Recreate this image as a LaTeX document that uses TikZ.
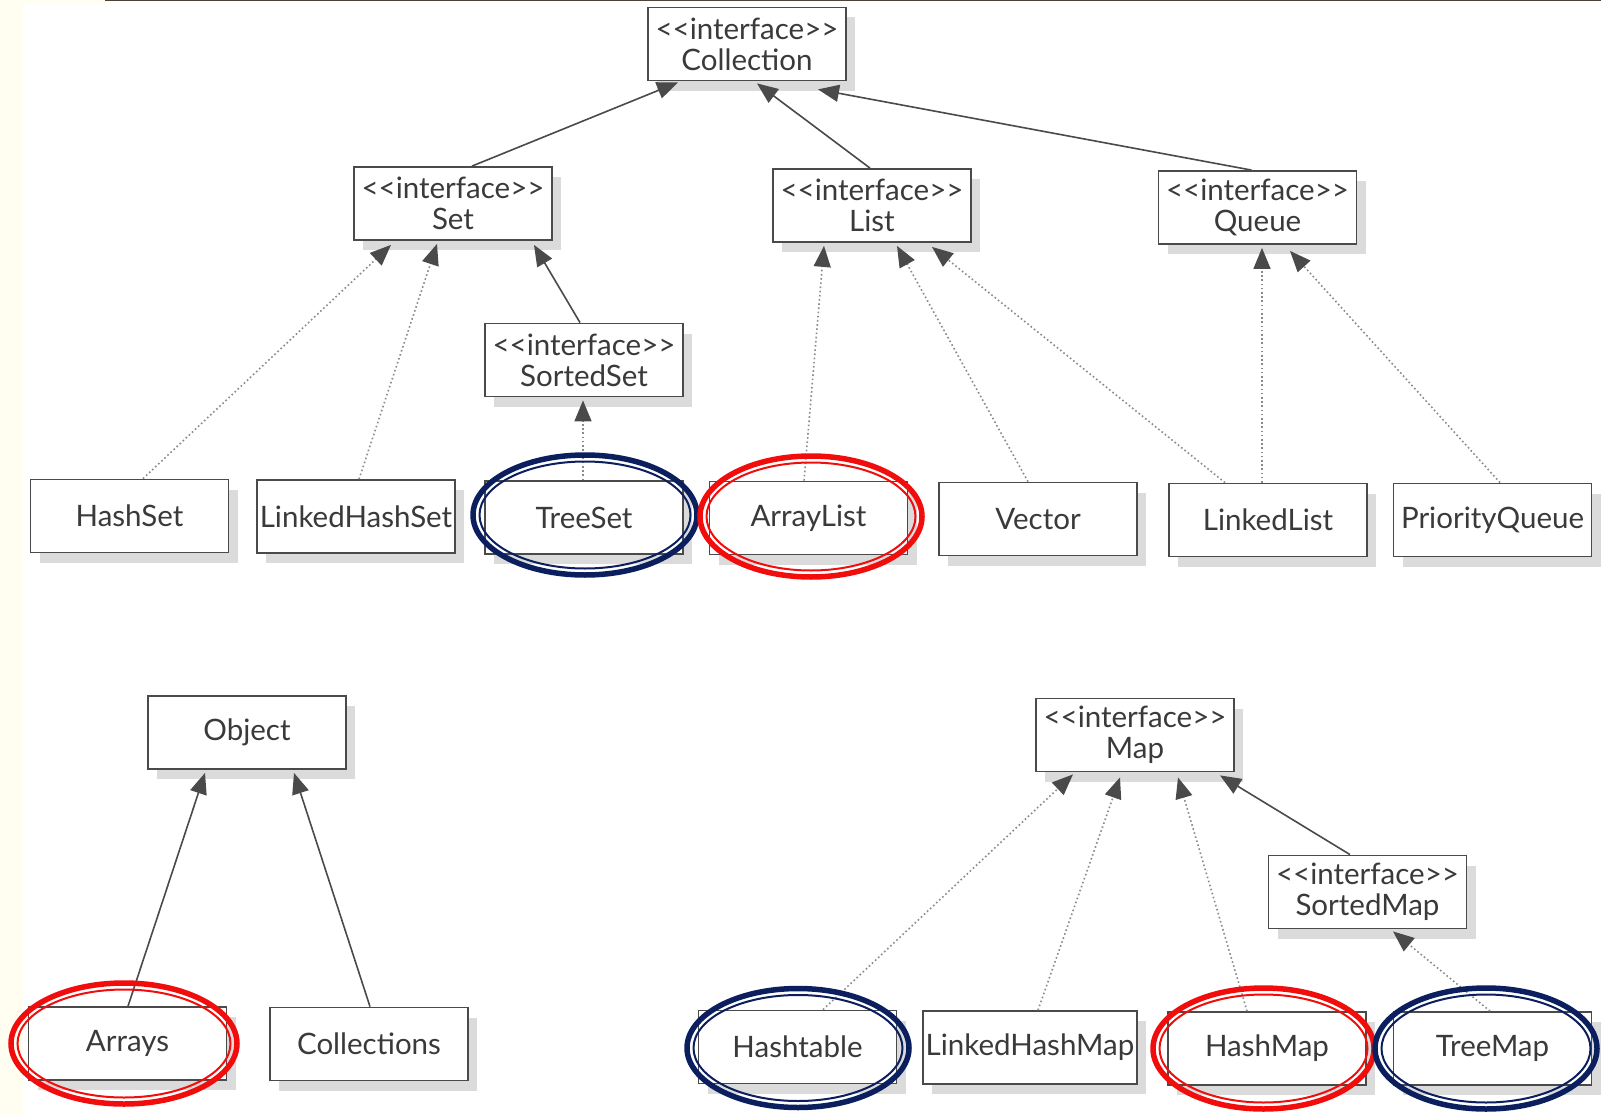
\documentclass[tikz,border=0pt]{standalone}
\usepackage{fontspec}
\setmainfont{Lato}
\usetikzlibrary{arrows.meta,shadows}
\definecolor{navyc}{HTML}{0B1F5E}
\definecolor{redc}{HTML}{F20D0D}
\definecolor{txt}{HTML}{3A3A3A}
\definecolor{edgec}{HTML}{4A4A4A}
\definecolor{dotc}{HTML}{8A8A8A}
\definecolor{cream}{HTML}{FFFEF0}
\definecolor{rulec}{HTML}{4D4235}
\newcommand\iface{<\kern0pt<interface>\kern0pt>}
\newcommand\dring[5]{%
  \draw[#1,line width=5.5pt] (#2,#3) ellipse [x radius=#4pt, y radius=#5pt];
  \draw[#1,line width=2pt] (#2,#3) ellipse [x radius=#4pt-6.5pt, y radius=#5pt-6.5pt];}
\begin{document}
\begin{tikzpicture}[x=1pt,y=-1pt,
  box/.style={draw=edgec, line width=1.8pt, fill=white, minimum width=198pt,
    minimum height=73pt, inner sep=0pt, align=center, text=txt,
    font=\fontsize{29.5}{31}\selectfont,
    general shadow={shadow xshift=9pt, shadow yshift=-10pt, fill=black!14}},
  ext/.style={draw=edgec, line width=1.6pt, -{Triangle[length=21pt,width=17pt,color=edgec]}},
  impl/.style={draw=dotc, line width=1.6pt, dash pattern=on 1.6pt off 2.6pt,
    -{Triangle[length=21pt,width=17pt,color=edgec]}}]
\useasboundingbox (0,0) rectangle (1601,1116);
\fill[white] (0,0) rectangle (1601,1116);
\fill[cream] (0,0) rectangle (23,1116);
\fill[cream] (0,0) rectangle (105,3);
\draw[rulec, line width=3pt] (105,0) -- (1601,0);

% top tier
\node[box] (coll) at (747,44) {\iface\\Collection};
\node[box] (set) at (453,203.5) {\iface\\Set};
\node[box] (list) at (872,205.5) {\iface\\List};
\node[box] (queue) at (1257.5,207.5) {\iface\\Queue};
\node[box] (sset) at (584,360) {\iface\\SortedSet};
\node[box] (hashset) at (129.5,516) {HashSet};
\node[box] (lhset) at (356,516.5) {LinkedHashSet};
\node[box] (treeset) at (584,517.5) {TreeSet};
\node[box] (alist) at (808.5,518) {ArrayList};
\node[box] (vector) at (1038,519) {Vector};
\node[box] (llist) at (1268,520) {LinkedList};
\node[box] (pq) at (1492.5,520) {PriorityQueue};

% bottom
\node[box] (object) at (247,732.5) {Object};
\node[box] (arrays) at (127.5,1043.5) {Arrays};
\node[box] (colls) at (369,1044) {Collections};
\node[box] (map) at (1135,735) {\iface\\Map};
\node[box] (smap) at (1367.5,892) {\iface\\SortedMap};
\node[box] (htable) at (797.5,1047) {Hashtable};
\node[box, minimum width=214pt] (lhmap) at (1030,1047.5) {LinkedHashMap};
\node[box] (hmap) at (1267,1048.5) {HashMap};
\node[box] (tmap) at (1492.5,1048.5) {TreeMap};

% connectors
\draw[ext] ([xshift=19pt]set.north) -- ([xshift=-69pt,yshift=-1pt]coll.south);
\draw[ext] ([xshift=-2pt]list.north) -- ([xshift=10pt,yshift=-2pt]coll.south);
\draw[ext] ([xshift=-6pt]queue.north) -- ([xshift=71pt,yshift=-8pt]coll.south);
\draw[impl] ([xshift=13.5pt]hashset.north) -- ([xshift=-62pt,yshift=-4pt]set.south);
\draw[impl] ([xshift=3pt]lhset.north) -- ([xshift=-16pt,yshift=-3pt]set.south);
\draw[ext] ([xshift=-4pt]sset.north) -- ([xshift=81pt,yshift=-4pt]set.south);
\draw[impl] ([xshift=-1pt]treeset.north) -- ([xshift=-1pt,yshift=-3pt]sset.south);
\draw[impl] ([xshift=-4.5pt]alist.north) -- ([xshift=-48pt,yshift=-3pt]list.south);
\draw[impl] ([xshift=-10pt]vector.north) -- ([xshift=25pt,yshift=-3pt]list.south);
\draw[impl] ([xshift=-43pt]llist.north) -- ([xshift=60pt,yshift=-4pt]list.south);
\draw[impl] ([xshift=-6pt]llist.north) -- ([xshift=4.5pt,yshift=-3pt]queue.south);
\draw[impl] ([xshift=7.5pt]pq.north) -- ([xshift=32.5pt,yshift=-6pt]queue.south);
\draw[ext] ([xshift=0.5pt]arrays.north) -- ([xshift=-42pt,yshift=-3pt]object.south);
\draw[ext] ([xshift=1pt]colls.north) -- ([xshift=47pt,yshift=-3pt]object.south);
\draw[impl] ([xshift=25.5pt]htable.north) -- ([xshift=-62pt,yshift=-2pt]map.south);
\draw[impl] ([xshift=8pt]lhmap.north) -- ([xshift=-15pt,yshift=-5pt]map.south);
\draw[impl] ([xshift=-20pt]hmap.north) -- ([xshift=43pt,yshift=-5pt]map.south);
\draw[ext] ([xshift=-17.5pt]smap.north) -- ([xshift=85pt,yshift=-3pt]map.south);
\draw[impl] ([xshift=-2.5pt]tmap.north) -- ([xshift=25.5pt,yshift=-2pt]smap.south);

% highlight rings
\dring{navyc}{585}{515}{112}{60}
\dring{redc}{811}{516.5}{111}{60.5}
\dring{redc}{124}{1043.5}{113}{60.5}
\dring{navyc}{798}{1048}{111}{59.5}
\dring{redc}{1263.5}{1048.5}{110.5}{60.5}
\dring{navyc}{1486}{1048.5}{111}{60.5}
\end{tikzpicture}
\end{document}
